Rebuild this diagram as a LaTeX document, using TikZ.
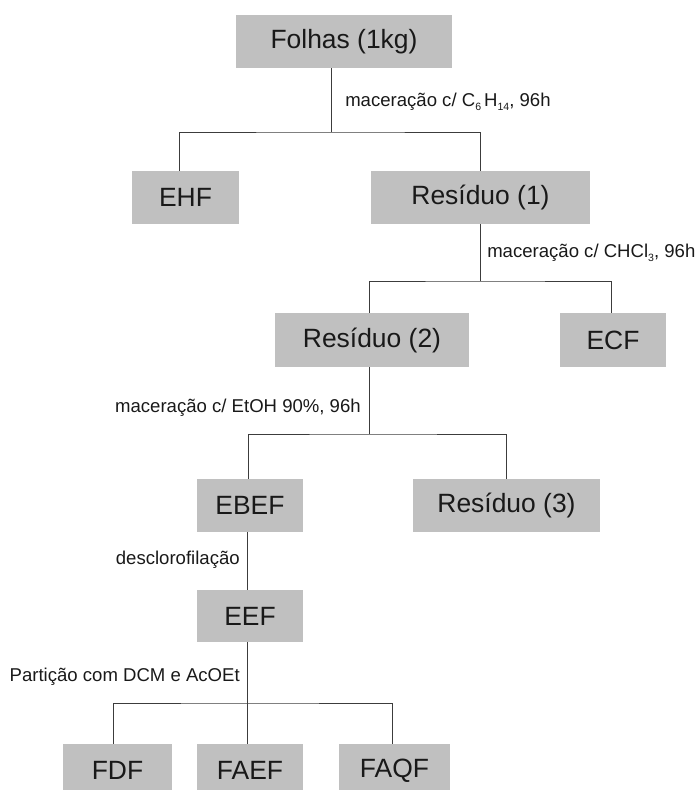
\documentclass[tikz,border=0pt]{standalone}
\usepackage{fontspec}
\setmainfont{Liberation Sans}
\usepackage{xcolor}
\usetikzlibrary{positioning, calc}
\definecolor{boxgray}{RGB}{192,192,192}
\definecolor{linegray}{RGB}{60,60,60}
\newcommand{\chemsub}[1]{\raisebox{-0.35ex}{\fontsize{7.5}{8}\selectfont #1}}
\tikzset{
	box/.style={rectangle, fill=boxgray, text=black!90, inner sep=0pt, minimum height=1.325cm, font=\fontsize{18.8}{22}\selectfont},
	smallbox/.style={box, minimum width=2.65cm},
	conn/.style={draw=linegray, line width=0.6pt},
	step label/.style={inner sep=0pt, text=black!90, font=\fontsize{13.2}{15}\selectfont}
}

\begin{document}
\begin{tikzpicture}[x=0.025cm, y=-0.025cm]
	\useasboundingbox (0,0) rectangle (696,790);

	% Boxes
	\node[box, minimum width=5.4cm] (folhas) at (344,41.5) {Folhas (1kg)};
	\node[smallbox, minimum width=2.675cm] (ehf) at (185.5,197.5) {EHF};
	\node[box, minimum width=5.475cm] (res1) at (480.5,197.5) {Resíduo (1)};
	\node[box, minimum width=4.85cm, minimum height=1.35cm] (res2) at (372,340) {Resíduo (2)};
	\node[smallbox, minimum height=1.35cm] (ecf) at (613,340) {ECF};
	\node[smallbox] (ebef) at (250,505.5) {EBEF};
	\node[box, minimum width=4.675cm] (res3) at (506.5,505.5) {Resíduo (3)};
	\node[smallbox, minimum height=1.3cm] (eef) at (250,616) {EEF};
	\node[smallbox, minimum width=2.725cm] (fdf) at (117.5,770.5) {FDF};
	\node[smallbox] (faef) at (250,770.5) {FAEF};
	\node[smallbox, minimum width=2.775cm] (faqf) at (394.5,770.5) {FAQF};

	% Split points
	\coordinate (s1) at (331,132);
	\coordinate (s2) at (480,281);
	\coordinate (s3) at (369,434);
	\coordinate (s4) at (247,703);

	% Connectors
	\draw[conn] (folhas.south -| s1) -- (s1);
	\draw[conn] ([xshift=-0.14cm]ehf.north) |- (s1) -| (res1.north);
	\draw[conn] (res1.south -| s2) -- (s2);
	\draw[conn] ([xshift=-0.075cm]res2.north) |- (s2) -| ([xshift=-0.05cm]ecf.north);
	\draw[conn] (res2.south -| s3) -- (s3);
	\draw[conn] ([xshift=-0.05cm]ebef.north) |- (s3) -| (res3.north);
	\draw[conn] (ebef.south -| s4) -- (eef.north -| s4);
	\draw[conn] (eef.south -| s4) -- (s4);
	\draw[conn] ([xshift=-0.09cm]fdf.north) |- (s4) -| ([xshift=-0.06cm]faqf.north);
	\draw[conn] (s4) -- (faef.north -| s4);

	% Labels
	\node[step label, anchor=west] (lab1) at (345,102) {maceração c/ C\chemsub{6}\,H\chemsub{14}, 96h};
	\node[step label, anchor=west] (lab2) at (487,253) {maceração c/ CHCl\chemsub{3}, 96h};
	\node[step label, anchor=east] (lab3) at (361,408) {maceração c/ EtOH 90\%, 96h};
	\node[step label, anchor=east] (lab4) at (240,560) {desclorofilação};
	\node[step label, anchor=east] (lab5) at (240,677) {Partição com DCM e AcOEt};
\end{tikzpicture}
\end{document}
